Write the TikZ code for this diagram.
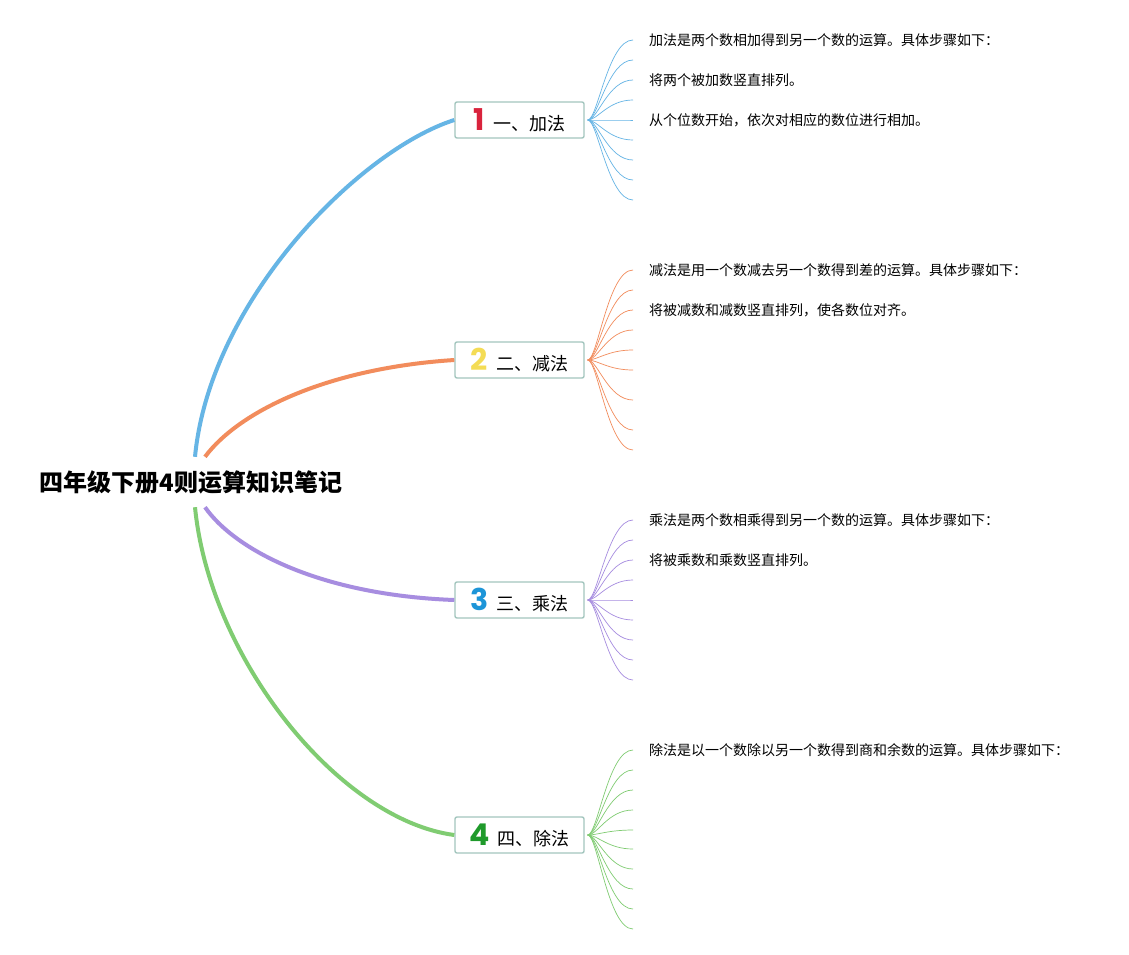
\documentclass[tikz,border=0pt]{standalone}
\usepackage{fontspec}
\newfontfamily\cjk{Noto Sans CJK SC}
\newfontfamily\numfont{Poppins}
\usepackage{tikz}
\definecolor{addc}{HTML}{66B5E5}
\definecolor{subc}{HTML}{F28C5C}
\definecolor{mulc}{HTML}{A78DE0}
\definecolor{divc}{HTML}{80CC72}
\definecolor{boxc}{HTML}{A3C6BE}
\definecolor{numred}{HTML}{D9233C}
\definecolor{numyel}{HTML}{F4DC55}
\definecolor{numblu}{HTML}{1D95D8}
\definecolor{numgrn}{HTML}{1F9A2B}
\tikzstyle{root} = [font={\cjk\bfseries\fontsize{24}{26}\selectfont}, minimum height=50pt, inner sep=0pt]
\tikzstyle{branch} = [draw=boxc, line width=1.4pt, fill=white, rounded corners=2pt, minimum width=129pt, minimum height=36pt, inner sep=0pt, font={\cjk\fontsize{18}{20}\selectfont}]
\tikzstyle{leaf} = [anchor=west, inner xsep=16pt, inner ysep=0pt, font={\cjk\fontsize{14}{16}\selectfont}]
\tikzstyle{trunk} = [line width=4pt]
\tikzstyle{twig} = [line width=0.7pt]
\newcommand{\opnum}[2]{{\numfont\bfseries\fontsize{30}{30}\selectfont\color{#1}#2}\hspace{8pt}}

\begin{document}
\begin{tikzpicture}[x=1pt,y=-1pt]
    \fill[white](0,0) rectangle (1129,955);
    \useasboundingbox(0,0) rectangle (1129,955);
    \node[root](r) at (191,482){四年级下册4则运算知识笔记};
    \node[branch](b1) at (519.5,120){\opnum{numred}{1}一、加法};
    \node[branch](b2) at (519.5,360){\opnum{numyel}{2}二、减法};
    \node[branch](b3) at (519.5,600){\opnum{numblu}{3}三、乘法};
    \node[branch](b4) at (519.5,835){\opnum{numgrn}{4}四、除法};
    \draw[trunk,addc]([xshift=4pt]r.north) .. controls (210,300) and (360,150) .. (b1.west);
    \draw[trunk,subc]([xshift=14pt]r.north) .. controls (240,410) and (330,368) .. (b2.west);
    \draw[trunk,mulc]([xshift=14pt]r.south) .. controls (235,550) and (320,595) .. (b3.west);
    \draw[trunk,divc]([xshift=4pt]r.south) .. controls (210,660) and (340,820) .. (b4.west);
    % twigs
    \foreach \y [count=\i] in {40,60,80,100,120,140,160,180,200}{
      \coordinate (a\i) at (633,\y);
      \draw[twig,addc]([xshift=3pt]b1.east) .. controls +(10,0) and +(-25,0) .. (a\i);}
    \foreach \y [count=\i] in {270,290,310,330,350,370,400,430,450}{
      \coordinate (s\i) at (633,\y);
      \draw[twig,subc]([xshift=3pt]b2.east) .. controls +(10,0) and +(-25,0) .. (s\i);}
    \foreach \y [count=\i] in {520,540,560,580,600,620,640,660,680}{
      \coordinate (m\i) at (633,\y);
      \draw[twig,mulc]([xshift=3pt]b3.east) .. controls +(10,0) and +(-25,0) .. (m\i);}
    \foreach \y [count=\i] in {750,770,790,810,830,849,869,889,909,929}{
      \coordinate (d\i) at (633,\y);
      \draw[twig,divc]([xshift=3pt]b4.east) .. controls +(10,0) and +(-25,0) .. (d\i);}
    \node[leaf](ta1) at (a1){加法是两个数相加得到另一个数的运算。具体步骤如下：};
    \node[leaf](ta3) at (a3){将两个被加数竖直排列。};
    \node[leaf](ta5) at (a5){从个位数开始，依次对相应的数位进行相加。};
    \node[leaf](ts1) at (s1){减法是用一个数减去另一个数得到差的运算。具体步骤如下：};
    \node[leaf](ts3) at (s3){将被减数和减数竖直排列，使各数位对齐。};
    \node[leaf](tm1) at (m1){乘法是两个数相乘得到另一个数的运算。具体步骤如下：};
    \node[leaf](tm3) at (m3){将被乘数和乘数竖直排列。};
    \node[leaf](td1) at (d1){除法是以一个数除以另一个数得到商和余数的运算。具体步骤如下：};
  \end{tikzpicture}
\end{document}
